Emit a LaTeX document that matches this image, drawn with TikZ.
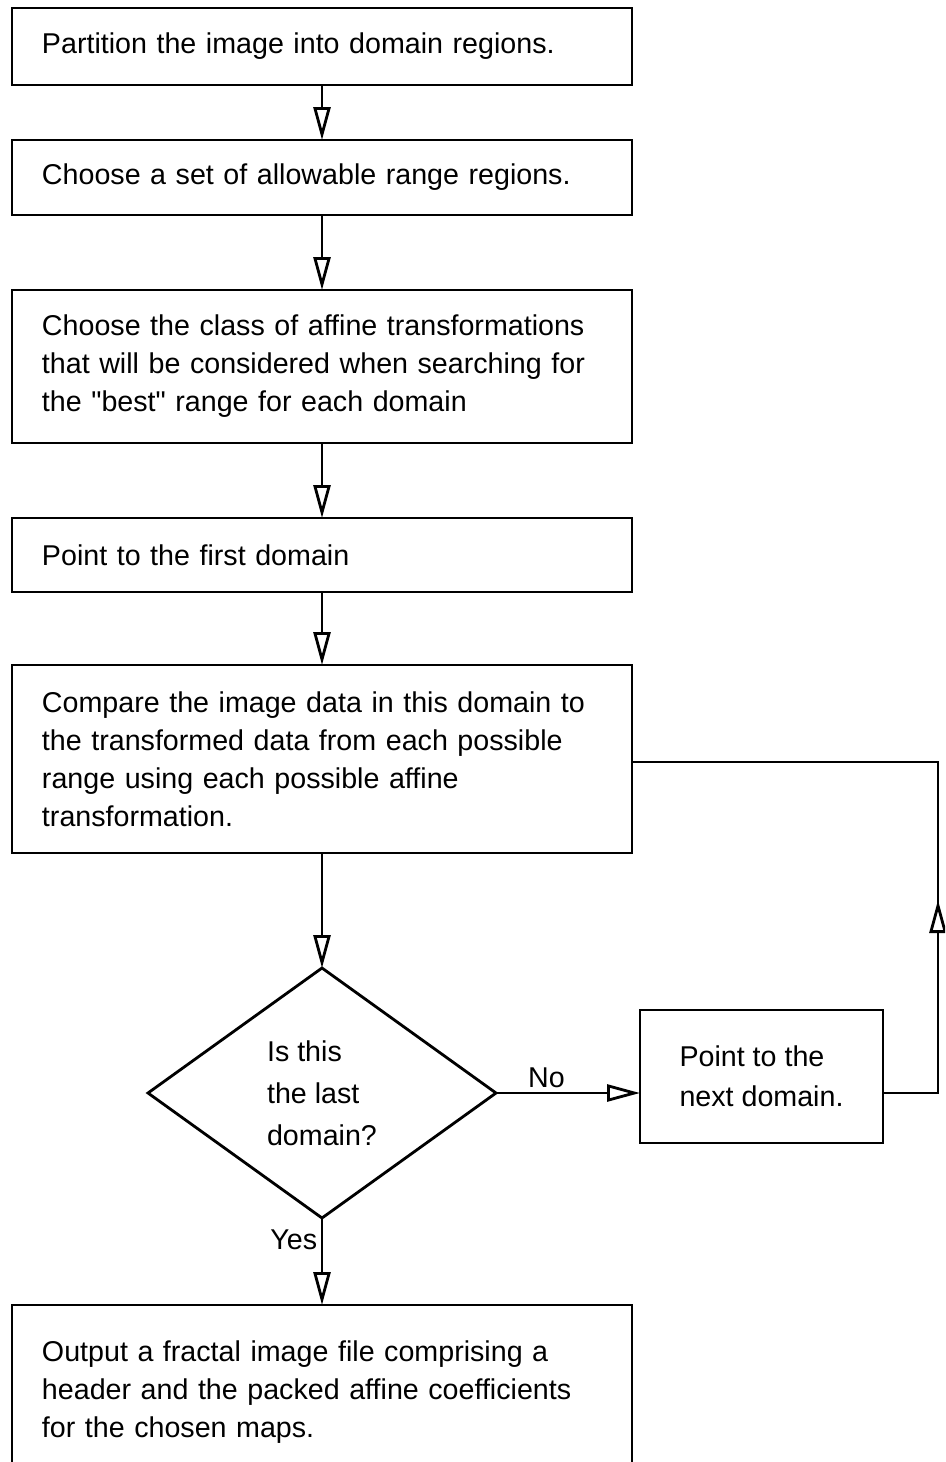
\documentclass[tikz,border=0pt]{standalone}
\usepackage{fontspec}
\setmainfont{Liberation Sans}
\usetikzlibrary{positioning, arrows.meta, shapes.geometric, calc}

\begin{document}
\begin{tikzpicture}[
        line width=1.6pt,
        stepbox/.style = {draw, outer sep=0pt, minimum width=124mm, text width=112mm, inner xsep=6mm, align=left, font=\fontsize{16.3}{21.6}\selectfont},
        smallbox/.style = {draw, outer sep=0pt, minimum width=48.6mm, minimum height=26.6mm, align=left, font=\fontsize{16.3}{22.5}\selectfont},
        decision/.style = {draw, diamond, outer sep=0pt, inner sep=0pt, minimum width=69.6mm, minimum height=50mm, align=left, font=\fontsize{16.3}{24}\selectfont},
        flow/.style = {-{Triangle[length=6.6mm, width=3.4mm, fill=white]}},
        answer/.style = {font=\fontsize{16.3}{18}\selectfont, inner sep=2pt},
    ]
        \useasboundingbox (0,0) rectangle (189mm,-292.4mm);
        \clip (0,0) rectangle (189mm,-292.4mm);

        \node[stepbox, minimum height=15.4mm] (part) at (64.4mm,-9.3mm) {Partition the image into domain regions.};
        \node[stepbox, minimum height=15mm, below=11mm of part] (range) {Choose a set of allowable range regions.};
        \node[stepbox, minimum height=30.6mm, below=15mm of range] (class) {Choose the class of affine transformations\\that will be considered when searching for\\the \textquotedbl best\textquotedbl{} range for each domain};
        \node[stepbox, minimum height=14.8mm, below=15mm of class] (first) {Point to the first domain};
        \node[stepbox, minimum height=37.6mm, below=14.6mm of first] (cmp) {Compare the image data in this domain to\\the transformed data from each possible\\range using each possible affine\\transformation.};
        \node[decision, below=23mm of cmp] (last) {Is this\\the last\\domain?};
        \node[smallbox, right=28.8mm of last, yshift=3.3mm] (next) {Point to the\\next domain.};
        \node[stepbox, minimum height=34.8mm, below=17.4mm of last] (out) {Output a fractal image file comprising a\\header and the packed affine coefficients\\for the chosen maps.};

        \draw[flow] (part) -- (range);
        \draw[flow] (range) -- (class);
        \draw[flow] (class) -- (first);
        \draw[flow] (first) -- (cmp);
        \draw[flow] (cmp) -- (last);
        \draw[flow] (last.east) -- node[answer, above, pos=0.35] {No} (last.east -| next.west);
        \draw[flow] (last.south) -- node[answer, left, pos=0.25] {Yes} (out);

        % loop back to the compare step
        \draw (next.east |- last.east) -- ++(11mm,0) coordinate (back) |- ($(cmp.east)+(0,-0.6mm)$);
        \draw[flow] (back) -- ++(0,38.6mm);
    \end{tikzpicture}
\end{document}
